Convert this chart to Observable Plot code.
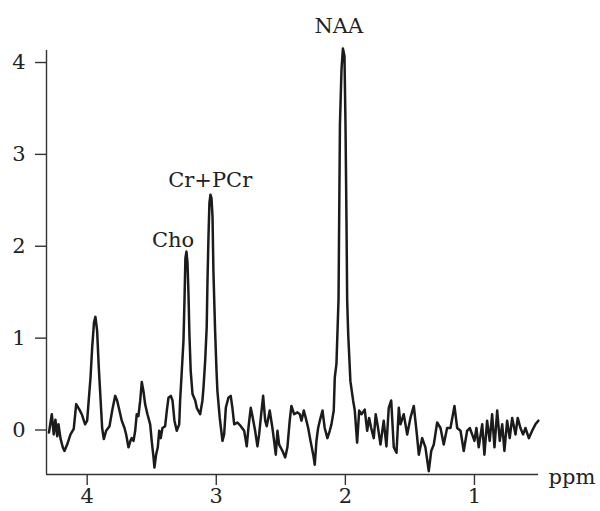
<!DOCTYPE html>
<html><head><meta charset="utf-8">
<script src="https://cdn.jsdelivr.net/npm/d3@7"></script>
<script src="https://cdn.jsdelivr.net/npm/@observablehq/plot@0.6"></script>
<style>html,body{margin:0;padding:0;background:#fff}</style>
</head><body><div id="chart"></div>
<script>
const ppm = [4.296,4.274,4.259,4.246,4.232,4.222,4.207,4.189,4.176,4.155,4.129,4.104,4.085,4.060,4.042,4.016,4.000,3.988,3.974,3.961,3.947,3.936,3.923,3.910,3.897,3.884,3.871,3.853,3.827,3.806,3.783,3.768,3.750,3.732,3.711,3.698,3.680,3.665,
3.655,3.641,3.628,3.616,3.603,3.589,3.577,3.564,3.551,3.533,3.512,3.500,3.486,3.479,3.466,3.453,3.442,3.430,3.417,3.396,3.383,3.370,3.352,3.339,3.324,3.306,3.287,3.280,3.267,3.254,3.246,3.239,3.231,3.223,3.215,3.208,3.198,3.184,3.163,3.151,3.125,3.107,3.099,3.086,3.074,3.068,3.060,3.053,3.045,3.037,3.029,3.022,3.009,2.998,2.991,2.973,2.952,2.939,2.926,2.906,2.888,2.875,2.861,2.836,2.810,2.784,2.764,2.751,2.733,2.720,2.699,2.681,2.668,2.655,2.637,2.621,2.609,2.586,2.565,2.552,2.539,2.526,2.513,2.487,2.466,2.449,2.431,2.418,2.397,2.371,
2.353,2.340,2.322,2.307,2.288,2.270,2.249,2.237,2.224,2.211,2.198,2.177,2.160,2.139,2.121,2.108,2.090,2.082,2.069,2.053,2.042,2.030,2.019,2.007,1.999,1.991,1.986,1.978,1.961,1.940,1.927,1.909,1.893,1.875,1.850,1.831,1.816,1.800,1.780,1.765,1.749,1.728,
1.703,1.682,1.664,1.645,1.625,1.604,1.586,1.573,1.548,1.521,1.496,1.470,1.449,1.431,1.405,1.380,1.354,1.335,1.315,1.289,1.263,1.238,1.212,1.186,1.155,1.134,1.108,1.083,1.057,1.036,1.018,1.000,0.985,0.967,0.940,0.923,0.902,0.882,0.863,0.845,0.824,0.804,0.785,0.768,0.747,0.727,0.708,0.682,0.665,0.644,0.623,0.605,0.579,0.553,0.528,0.505];
const intensity = [-0.05,0.15,-0.07,0.09,-0.09,0.04,-0.11,-0.21,-0.25,-0.18,-0.07,-0.01,0.26,0.20,0.15,0.04,0.08,0.30,0.55,0.88,1.15,1.21,1.06,0.66,0.33,0.00,-0.12,-0.03,0.02,0.19,0.35,0.30,0.19,0.08,0.00,-0.07,-0.21,-0.14,
-0.11,-0.14,-0.03,0.15,0.13,0.30,0.50,0.40,0.26,0.15,0.04,-0.14,-0.32,-0.43,-0.29,-0.21,-0.03,-0.11,0.00,0.02,0.19,0.33,0.35,0.30,0.08,-0.03,0.04,0.30,0.62,0.95,1.40,1.85,1.92,1.80,1.45,1.02,0.62,0.37,0.30,0.22,0.15,0.30,0.44,0.73,1.10,1.60,2.10,2.45,2.54,2.50,2.30,1.70,1.06,0.62,0.40,0.11,-0.14,-0.07,0.22,0.33,0.35,0.22,0.04,0.06,0.02,-0.03,-0.20,0.00,0.22,0.13,-0.03,-0.20,-0.07,0.11,0.35,0.08,0.02,0.19,0.00,-0.14,-0.29,-0.03,-0.18,-0.25,-0.32,-0.21,0.08,0.24,0.15,0.17,
0.15,0.08,0.19,0.11,0.00,-0.14,-0.29,-0.40,-0.14,0.00,0.08,0.19,0.00,-0.11,-0.03,0.04,0.19,0.55,0.70,1.40,3.30,3.90,4.13,4.05,3.30,2.20,1.39,1.02,0.51,0.30,0.19,-0.16,0.19,0.15,0.20,-0.03,0.11,0.00,-0.11,0.15,0.02,-0.18,
0.08,-0.20,0.22,0.30,-0.21,-0.27,0.22,0.04,0.15,-0.07,0.11,0.24,-0.03,-0.29,-0.11,-0.21,-0.47,-0.25,-0.18,0.06,0.00,-0.18,0.00,0.00,0.24,0.00,-0.03,-0.25,-0.03,0.00,-0.07,-0.14,0.00,-0.21,0.04,-0.29,0.08,-0.14,0.15,-0.21,0.19,-0.14,0.04,-0.25,0.08,-0.11,0.11,-0.07,0.11,0.00,-0.07,0.00,-0.11,-0.03,0.04,0.08];

const peakLabels = ["NAA", "Cr+PCr", "Cho"];
const peakLabelPpm = [2.051, 3.047, 3.334];
const peakLabelY = [4.30, 2.62, 1.967];
const xTicks = [4, 3, 2, 1];
const yTicks = [0, 1, 2, 3, 4];
const xDomain = [4.315, 0.504];
const yDomain = [-0.506, 4.109];
const xUnit = ["ppm"];

const spectrum = ppm.map((p, i) => ({ppm: p, v: intensity[i]}));
const labels = peakLabels.map((t, i) => ({t, x: peakLabelPpm[i], y: peakLabelY[i]}));

const font = "DejaVu Serif";
const chart = Plot.plot({
  width: 600,
  height: 511,
  marginLeft: 46,
  marginRight: 62,
  marginTop: 50,
  marginBottom: 37,
  style: {fontFamily: font, fontSize: "21px", color: "#222", background: "#fff", overflow: "visible"},
  x: {domain: xDomain, label: null},
  y: {domain: yDomain, label: null},
  marks: [
    Plot.ruleX([xDomain[0]], {stroke: "#333", strokeWidth: 1.4}),
    Plot.ruleY([yDomain[0]], {stroke: "#333", strokeWidth: 1.4}),
    Plot.axisX({ticks: xTicks, tickFormat: "d", tickSize: 11, tickPadding: 3, fontSize: 21, stroke: "#333", strokeWidth: 1.4, fill: "#222", label: null}),
    Plot.axisY({ticks: yTicks, tickFormat: "d", tickSize: 11, tickPadding: 10, fontSize: 21, dy: 2, stroke: "#333", strokeWidth: 1.4, fill: "#222", label: null}),
    Plot.line(spectrum, {x: "ppm", y: "v", stroke: "#1b1b1b", strokeWidth: 2.5, clip: false}),
    Plot.text(labels, {x: "x", y: "y", text: "t", fontSize: 21, lineAnchor: "bottom", fill: "#222"}),
    Plot.text(xUnit, {frameAnchor: "bottom-right", text: d => d, textAnchor: "start", lineAnchor: "bottom", dx: 10, dy: 9, fontSize: 21, fill: "#222"})
  ]
});
document.getElementById("chart").appendChild(chart);
</script>
</body></html>
